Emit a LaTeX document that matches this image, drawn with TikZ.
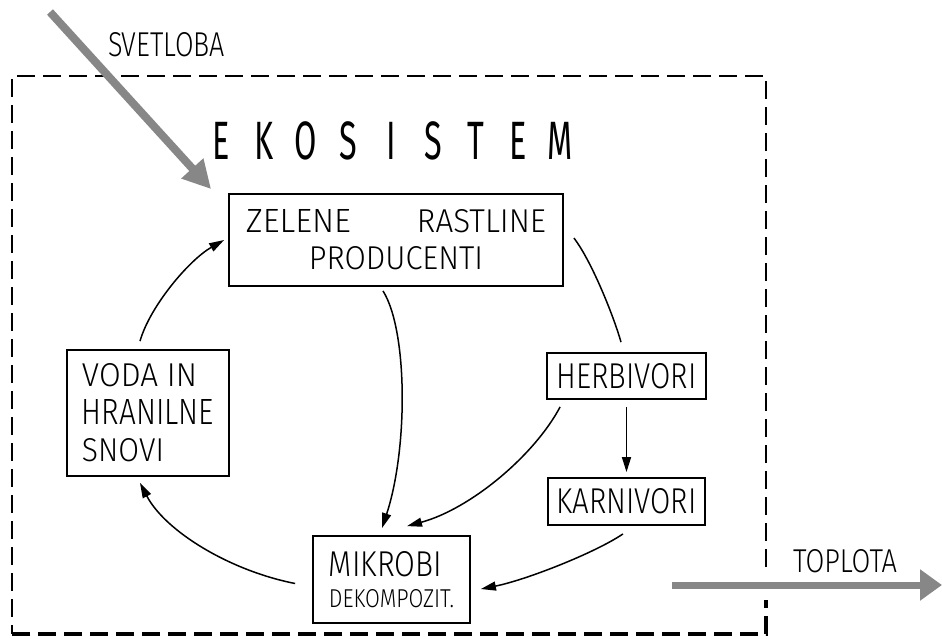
\documentclass[tikz,border=0pt]{standalone}
\usepackage{fontspec}
\setmainfont{Fira Sans}[UprightFont={* Light}]
\newfontfamily\ekofont{Fira Sans}
\usepackage{graphicx}
\usetikzlibrary{arrows.meta}
\newcommand\rsz[3]{\resizebox{#1pt}{#2pt}{#3}}
\newcommand\ekl[1]{\makebox[42.4pt]{\scalebox{0.6}[1]{#1}}}
\definecolor{beamgray}{RGB}{135,135,135}
\tikzset{
  box/.style={draw=black, line width=1.8pt, inner sep=0pt},
  flow/.style={line width=1.5pt, -{Triangle[length=15pt,width=9pt]}},
  plainline/.style={line width=1.5pt},
  beam/.style={draw=beamgray, line width=8pt, -{Triangle[length=28pt,width=28pt]}},
  frame/.style={line width=2.5pt, dash pattern=on 18pt off 8pt},
  lbl/.style={inner sep=0pt}
}
\begin{document}
\begin{tikzpicture}[x=1pt,y=-1pt]
\useasboundingbox (0,0) rectangle (942,638);
% dashed ecosystem frame
\draw[frame] (766,567) -- (766,76) -- (12,76) -- (12,634);
\draw[frame, line width=3.5pt] (12,634) -- (766,634) -- (766,600);
% boxes
\node[box, minimum width=334pt, minimum height=92pt, align=center, font=\fontsize{10}{37}\selectfont] (zel) at (396,240)
  {\rsz{105}{23}{ZELENE}\hspace{66pt}\rsz{129}{23}{RASTLINE}\\ \rsz{174}{23}{PRODUCENTI}};
\node[box, minimum width=162pt, minimum height=126pt, align=left, font=\fontsize{10}{37.5}\selectfont] (voda) at (148,413)
  {\rsz{115}{23}{VODA IN}\\ \rsz{132}{25}{HRANILNE}\\ \rsz{82}{23}{SNOVI}};
\node[box, minimum width=157pt, minimum height=87pt, align=left, font=\fontsize{10}{31}\selectfont] (mik) at (391.5,579.5)
  {\rsz{113}{25}{MIKROBI}\\ \rsz{125}{18}{DEKOMPOZIT.}};
\node[box, minimum width=159pt, minimum height=46pt] (herb) at (626.5,376) {\rsz{140}{25}{HERBIVORI}};
\node[box, minimum width=157pt, minimum height=47pt] (karn) at (626.5,501.5) {\rsz{140}{25}{KARNIVORI}};
% labels
\node[lbl] (svet) at (166.5,45) {\rsz{117}{24}{SVETLOBA}};
\node[lbl] (topl) at (845,561.5) {\rsz{104}{23}{TOPLOTA}};
\node[lbl, font=\ekofont\fontsize{54}{60}\selectfont] (eko) at (391,141)
  {\ekl{E}\ekl{K}\ekl{O}\ekl{S}\ekl{I}\ekl{S}\ekl{T}\ekl{E}\ekl{M}};
% light and heat
\coordinate (sun) at (50,12);
\coordinate (heatA) at (672,585);
\coordinate (heatB) at (942,585);
\draw[beam] (sun) -- ([xshift=-17pt,yshift=4pt]zel.north west);
\draw[beam, line width=7pt, -{Triangle[length=22pt,width=30pt]}] (heatA) -- (heatB);
% cycle connectors
\draw[flow] ([xshift=-8pt,yshift=8pt]voda.north) .. controls +(10,-35) and +(-35,20) .. ([xshift=-4pt]zel.west);
\draw[flow] ([xshift=-17pt,yshift=-4pt]mik.west) .. controls +(-66,-13) and +(25,48) .. ([xshift=-8pt,yshift=-6pt]voda.south);
\draw[flow] ([xshift=-13pt,yshift=-4pt]zel.south) .. controls +(25,40) and +(26,-79) .. ([xshift=-9.5pt,yshift=7pt]mik.north);
\draw[flow] ([xshift=14pt,yshift=-7pt]herb.south west) .. controls +(-26,49) and +(63,-17) .. ([xshift=15.5pt,yshift=9pt]mik.north);
\draw[flow] ([yshift=-7pt]herb.south) -- ([yshift=5pt]karn.north);
\draw[flow] ([xshift=-3.5pt,yshift=-8pt]karn.south) .. controls +(-28,19) and +(45,-9) .. ([xshift=10pt,yshift=-9.5pt]mik.east);
\draw[plainline] ([xshift=10pt,yshift=2pt]zel.east) .. controls +(17,22) and +(-8,-28) .. ([xshift=-5.5pt,yshift=10pt]herb.north);
\end{tikzpicture}
\end{document}
